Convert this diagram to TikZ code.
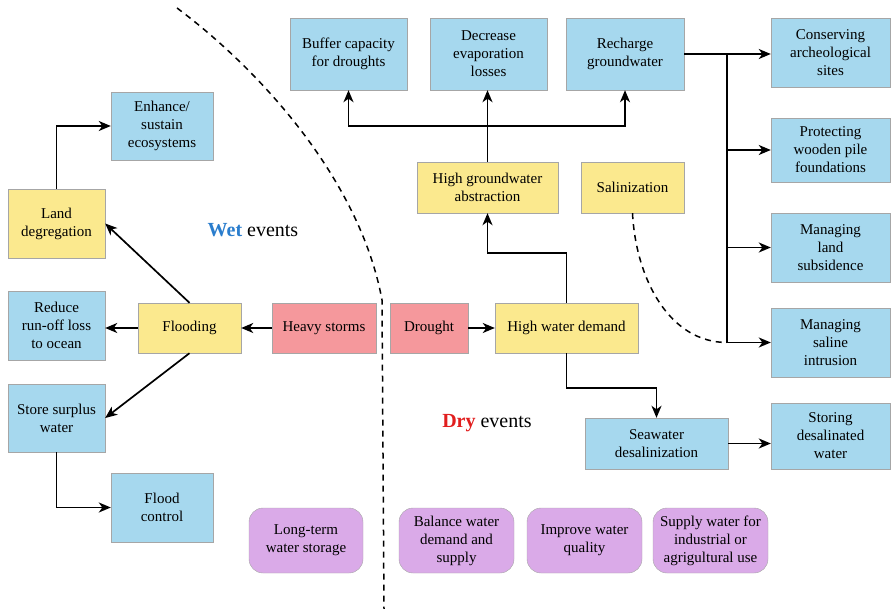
\documentclass[tikz,border=0pt]{standalone}
\usepackage{fontspec}
\setmainfont{Liberation Serif}
\usepackage{tikz}
\usetikzlibrary{arrows, arrows.meta, shapes, positioning, calc}

\definecolor{boxblue}{RGB}{166,216,238}
\definecolor{boxyellow}{RGB}{251,233,142}
\definecolor{boxred}{RGB}{245,152,156}
\definecolor{boxpurple}{RGB}{218,170,232}
\definecolor{wetblue}{RGB}{42,125,205}
\definecolor{dryred}{RGB}{225,30,30}

\begin{document}
\begin{tikzpicture}
  [x=1pt, y=-1pt, > = {Stealth[length=12pt, width=10pt, inset=3.5pt]}, auto,
    block/.style ={
        rectangle,
        draw=gray!70,
        inner sep=2pt,
        align=center,
        font=\fontsize{15}{18}\selectfont,
      },
    impact/.style={block, fill=boxblue},
    cause/.style={block, fill=boxyellow},
    event/.style={block, fill=boxred},
    goal/.style={block, fill=boxpurple, rounded corners=14pt},
    link/.style={->, line width=1.7pt},
    divider/.style={line width=1.5pt, dash pattern=on 6pt off 5pt},
  ]
  \useasboundingbox (0,0) rectangle (891,609);

  % wet side
  \node[cause, minimum width=97pt, minimum height=69pt] (landdeg) at (56.5,223.5) {Land\\degregation};
  \node[impact, minimum width=102pt, minimum height=68pt] (ecosys) at (162,126) {Enhance/\\sustain\\ecosystems};
  \node[impact, minimum width=97pt, minimum height=69pt] (runoff) at (56.5,325.5) {Reduce\\run-off loss\\to ocean};
  \node[cause, minimum width=103pt, minimum height=50pt] (flooding) at (189.5,328) {Flooding};
  \node[event, minimum width=104pt, minimum height=50pt] (storms) at (324,328) {Heavy storms};
  \node[impact, minimum width=97pt, minimum height=68pt] (surplus) at (56.5,418) {Store surplus\\water};
  \node[impact, minimum width=102pt, minimum height=69pt] (floodctl) at (162,507.5) {Flood\\control};

  % dry side
  \node[event, minimum width=78pt, minimum height=50pt] (drought) at (429,328) {Drought};
  \node[cause, minimum width=143pt, minimum height=50pt] (demand) at (566.5,328) {High water demand};
  \node[cause, minimum width=141pt, minimum height=51pt] (abstraction) at (487.5,187.5) {High groundwater\\abstraction};
  \node[cause, minimum width=103pt, minimum height=51pt] (salinization) at (632.5,187.5) {Salinization};
  \node[impact, minimum width=117pt, minimum height=72pt] (buffer) at (348.5,54) {Buffer capacity\\for droughts};
  \node[impact, minimum width=117pt, minimum height=72pt] (evaporation) at (488.5,54) {Decrease\\evaporation\\losses};
  \node[impact, minimum width=118pt, minimum height=72pt] (recharge) at (625,54) {Recharge\\groundwater};
  \node[impact, minimum width=119pt, minimum height=69pt] (archeo) at (830.5,52.5) {Conserving\\archeological\\sites};
  \node[impact, minimum width=119pt, minimum height=64pt] (piles) at (830.5,150) {Protecting\\wooden pile\\foundations};
  \node[impact, minimum width=119pt, minimum height=69pt] (subsidence) at (830.5,247.5) {Managing\\land\\subsidence};
  \node[impact, minimum width=119pt, minimum height=69pt] (intrusion) at (830.5,342.5) {Managing\\saline\\intrusion};
  \node[impact, minimum width=143pt, minimum height=51pt] (seawater) at (656.5,443.5) {Seawater\\desalinization};
  \node[impact, minimum width=119pt, minimum height=66pt] (storing) at (830.5,436) {Storing\\desalinated\\water};

  % goals
  \node[goal, minimum width=114pt, minimum height=65pt] (longterm) at (306,540.5) {Long-term\\water storage};
  \node[goal, minimum width=115pt, minimum height=65pt] (balance) at (456.5,540.5) {Balance water\\demand and\\supply};
  \node[goal, minimum width=115pt, minimum height=65pt] (quality) at (584.5,540.5) {Improve water\\quality};
  \node[goal, minimum width=115pt, minimum height=65pt] (supply) at (710.5,540.5) {Supply water for\\industrial or\\agrigultural use};

  \node[font=\fontsize{20}{24}\selectfont] (wetlabel) at (253,230) {\textcolor{wetblue}{\textbf{Wet}} events};
  \node[font=\fontsize{20}{24}\selectfont] (drylabel) at (487,423) {\textcolor{dryred}{\textbf{Dry}} events};

  \draw[divider] (177,8) .. controls (260,70) and (360,180) .. (382,300) -- (384,609);

  \draw[link] (landdeg.north) |- (ecosys.west);
  \draw[link] (flooding.north) -- (landdeg.east);
  \draw[link] (flooding.west) -- (flooding.west -| runoff.east);
  \draw[link] (storms.west) -- (flooding.east);
  \draw[link] (flooding.south) -- (surplus.east);
  \draw[link] (surplus.south) |- (floodctl.west);

  \draw[link] (drought.east) -- (drought.east -| demand.west);
  \coordinate (abstrbend) at (487.5,253);
  \draw[link] (demand.north) |- (abstrbend) -- (abstraction.south);
  \coordinate (desalbend) at (656.5,388);
  \draw[link] (demand.south) |- (desalbend) -- (seawater.north);
  \draw[link] (seawater.east) -- (seawater.east -| storing.west);

  \draw[link] (abstraction.north) -- (abstraction.north |- evaporation.south);
  \coordinate (split) at (487.5,126);
  \draw[link] (split) -| (buffer.south);
  \draw[link] (split) -| (recharge.south);
  \draw[link] (recharge.east) -- (recharge.east -| archeo.west);
  \coordinate (trunk) at (727,54);
  \foreach \target in {piles, subsidence, intrusion}
    \draw[link] (trunk) |- (\target.west);
  \draw[line width=1.5pt, dash pattern=on 6pt off 5pt] (salinization.south) .. controls (636,280) and (670,342.5) .. (trunk |- intrusion.west);
\end{tikzpicture}
\end{document}
